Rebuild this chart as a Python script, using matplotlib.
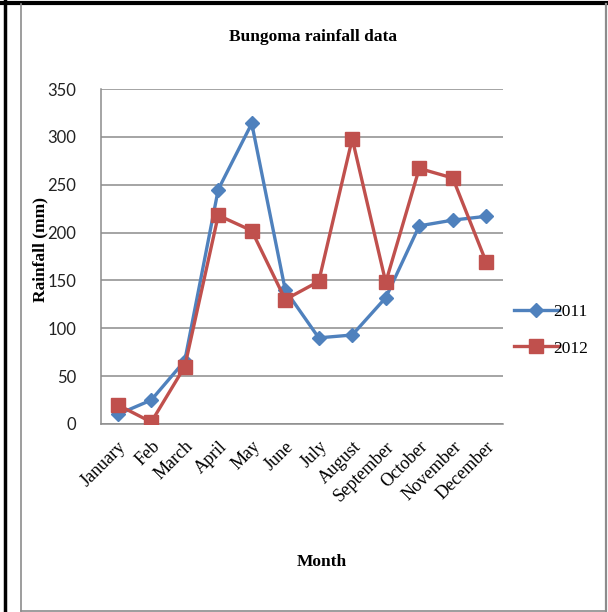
import matplotlib.pyplot as plt
from matplotlib.lines import Line2D

months = ["January", "Feb", "March", "April", "May", "June", "July",
          "August", "September", "October", "November", "December"]
rain_2011 = [10, 25, 66, 245, 314, 140, 90, 93, 132, 207, 213, 217]
rain_2012 = [20, 2, 60, 218, 202, 130, 149, 298, 148, 267, 257, 169]
y_ticks = [0, 50, 100, 150, 200, 250, 300, 350]

BLUE = "#4F81BD"
RED = "#C0504D"
GRID = "#8C8C8C"
SERIF = ["Liberation Serif", "DejaVu Serif"]

fig = plt.figure(figsize=(6.08, 6.12), dpi=100)
ax = fig.add_axes([101 / 608, 1 - 424 / 612, 402 / 608, 335 / 612])

x = list(range(len(months)))
ax.plot(x, rain_2011, color=BLUE, lw=2.4, marker="D", ms=7.5,
        mec=BLUE, mfc=BLUE, label="2011", zorder=3)
ax.plot(x, rain_2012, color=RED, lw=2.4, marker="s", ms=9.5,
        mec=RED, mfc=RED, label="2012", zorder=4)

ax.set_xlim(-0.5, len(months) - 0.5)
ax.set_ylim(0, 350)
ax.set_yticks(y_ticks)
ax.set_yticklabels([str(v) for v in y_ticks], fontsize=12,
                   family=["Lato", "DejaVu Sans"], color="#222222")
ax.set_xticks(x)
ax.set_xticklabels(months, rotation=45, ha="right", rotation_mode="anchor",
                   fontsize=13, family=SERIF)
ax.tick_params(axis="y", length=0, pad=18)
ax.tick_params(axis="x", length=0, pad=10)

ax.grid(axis="y", color=GRID, lw=1.1)
ax.set_axisbelow(True)
for side in ("top", "right"):
    ax.spines[side].set_visible(False)
for side in ("left", "bottom"):
    ax.spines[side].set_color(GRID)
    ax.spines[side].set_linewidth(1.1)

fig.text(313 / 608, 1 - 37 / 612, "Bungoma rainfall data", ha="center",
         va="center", fontsize=12.5, fontweight="bold", family=SERIF)
fig.text(40 / 608, 1 - 249 / 612, "Rainfall (mm)", ha="center", va="center",
         rotation=90, fontsize=12.5, fontweight="bold", family=SERIF)
fig.text(322 / 608, 1 - 562 / 612, "Month", ha="center", va="center",
         fontsize=12.5, fontweight="bold", family=SERIF)

leg = ax.legend(loc="center left", bbox_to_anchor=(498 / 608, 1 - 330 / 612),
                bbox_transform=fig.transFigure, frameon=False,
                prop={"family": SERIF, "size": 12.5}, handlelength=2.6,
                handletextpad=-0.3, labelspacing=1.2)

# page borders around the chart
fig.add_artist(Line2D([0, 1], [1 - 3 / 612, 1 - 3 / 612], color="black", lw=3))
fig.add_artist(Line2D([5 / 608, 5 / 608], [0, 1], color="black", lw=2.5))
fig.add_artist(Line2D([21 / 608, 21 / 608], [1 / 612, 1 - 4 / 612], color=GRID, lw=1.2))
fig.add_artist(Line2D([606 / 608, 606 / 608], [1 / 612, 1 - 4 / 612], color=GRID, lw=1.6))
fig.add_artist(Line2D([21 / 608, 606 / 608], [1.5 / 612, 1.5 / 612], color=GRID, lw=1.2))

fig.savefig("out.png", dpi=100)
